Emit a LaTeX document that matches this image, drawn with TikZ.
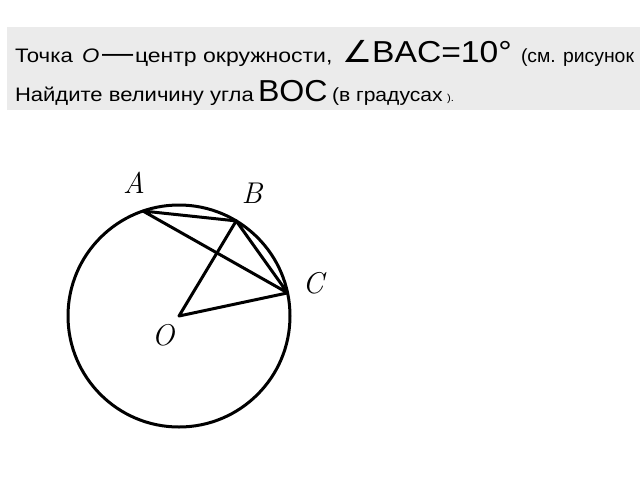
\documentclass[tikz,border=0pt]{standalone}
\usepackage{fontspec}
\newfontfamily\txt{Liberation Sans}
\newfontfamily\sym{DejaVu Sans}
\definecolor{boxgray}{HTML}{EBEBEB}
\newcommand{\sx}[1]{\scalebox{1.14}[1]{#1}}
\newcommand{\sxb}[1]{\scalebox{1.11}[1]{#1}}
\tikzset{
  seg/.style={anchor=base west, inner sep=0pt, outer sep=0pt, font=\txt},
  lbl/.style={inner sep=0pt, font=\fontsize{30}{30}\selectfont\itshape},
  geo/.style={line width=3pt, line join=round, line cap=round},
}
\begin{document}
\begin{tikzpicture}[x=1pt, y=-1pt]
\useasboundingbox (0,0) rectangle (640,480);
\clip (0,0) rectangle (640,480);
\fill[white] (0,0) rectangle (640,480);
\fill[boxgray] (7,27) rectangle (645,110);
% line 1
\node[seg] (t1) at (15,62) {\fontsize{19.5}{20}\selectfont\sx{Точка}};
\node[seg] (t2) at (82,62) {\fontsize{19.5}{20}\selectfont\sx{\itshape O}};
\node[seg] (t3) at (102,62) {\fontsize{28}{28}\selectfont\sxb{—}};
\node[seg] (t4) at (135,62) {\fontsize{19.5}{20}\selectfont\scalebox{1.18}[1]{центр окружности,}};
\node[seg] (t5) at (342,62) {\fontsize{30.3}{31}\selectfont\sxb{{\sym ∠}BAC=10°}};
\node[seg] (t6) at (521,62) {\fontsize{19}{20}\selectfont\scalebox{1.02}[1]{(см. рисунок}};
% line 2
\node[seg] (u1) at (15,101) {\fontsize{19.5}{20}\selectfont\scalebox{1.13}[1]{Найдите величину угла}};
\node[seg] (u2) at (258,101) {\fontsize{30.3}{31}\selectfont\scalebox{1.06}[1]{BOC}};
\node[seg] (u3) at (332,101) {\fontsize{19}{20}\selectfont\scalebox{1.11}[1]{(в градусах}};
\node[seg] (u4) at (447,101) {\fontsize{10}{10}\selectfont\sx{).}};
% geometry
\coordinate (O) at (179,316);
\coordinate (A) at (142.9,211);
\coordinate (B) at (236.2,220.9);
\coordinate (C) at (287.6,292.9);
\draw[geo] (O) circle[radius=111];
\draw[geo] (A) -- (B) -- (C) -- cycle;
\draw[geo] (B) -- (O) -- (C);
\node[lbl] (lA) at (134,183) {A};
\node[lbl] (lB) at (252,193) {B};
\node[lbl] (lC) at (313,283) {C};
\node[lbl] (lO) at (163,335) {O};
\end{tikzpicture}
\end{document}
